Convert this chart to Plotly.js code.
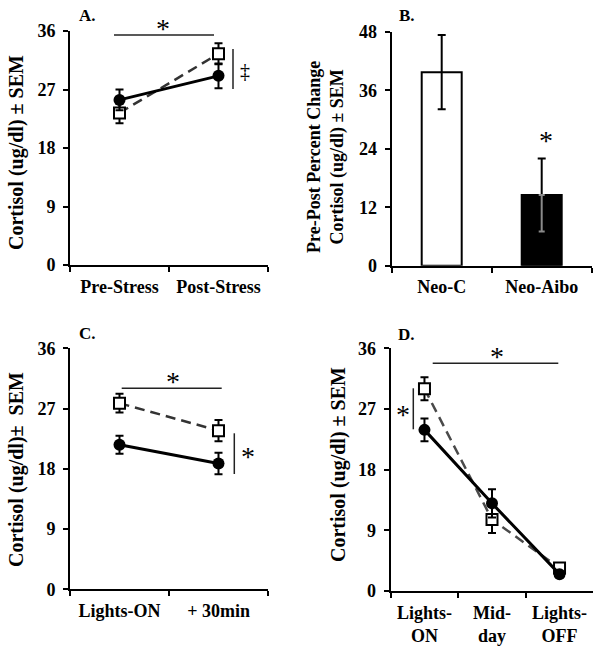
<!DOCTYPE html>
<html>
<head>
<meta charset="utf-8">
<script src="https://cdn.plot.ly/plotly-3.0.1.min.js"></script>
<style>html,body{margin:0;padding:0;background:#fff}#chart{width:602px;height:650px}</style>
</head>
<body>
<div id="chart"></div>
<script>
// ---- Panel A: stress test ----
const catsA = ['Pre-Stress', 'Post-Stress'];
const neoC_A = [23.4, 32.5];
const neoC_A_sem = [1.6, 1.6];
const aibo_A = [25.4, 29.1];
const aibo_A_sem = [1.6, 1.9];

// ---- Panel B: percent change ----
const catsB = ['Neo-C', 'Neo-Aibo'];
const pctB = [39.7, 14.5];
const pctB_sem = [7.6, 7.5];

// ---- Panel C: waking ----
const catsC = ['Lights-ON', '+ 30min'];
const neoC_C = [27.8, 23.7];
const neoC_C_sem = [1.4, 1.6];
const aibo_C = [21.6, 18.8];
const aibo_C_sem = [1.35, 1.6];

// ---- Panel D: diurnal ----
const catsD = ['Lights-<br>ON', 'Mid-<br>day', 'Lights-<br>OFF'];
const neoC_D = [30.0, 10.6, 3.4];
const neoC_D_sem = [1.7, 2.0, 0.3];
const aibo_D = [23.9, 13.0, 2.5];
const aibo_D_sem = [1.7, 2.1, 0.3];

const yTicks = [0, 9, 18, 27, 36];
const yTicksB = [0, 12, 24, 36, 48];

const W = 602, H = 650;
const px = v => v / W;
const py = v => 1 - v / H;
const FONT = 'Liberation Serif, Times New Roman, serif';

function errY(arr, color) {
  return {type: 'data', array: arr, visible: true, color: color || '#000', thickness: 2, width: 4};
}
function sqTrace(x, y, sem, xa, ya, dashColor) {
  return {x: x, y: y, xaxis: xa, yaxis: ya, type: 'scatter', mode: 'lines+markers',
    line: {color: dashColor || '#333', width: 2.5, dash: '10px,6px'},
    marker: {symbol: 'square', size: 11, color: '#fff', line: {color: '#000', width: 2}},
    error_y: errY(sem), showlegend: false, cliponaxis: false};
}
function ciTrace(x, y, sem, xa, ya) {
  return {x: x, y: y, xaxis: xa, yaxis: ya, type: 'scatter', mode: 'lines+markers',
    line: {color: '#000', width: 3},
    marker: {symbol: 'circle', size: 12, color: '#000'},
    error_y: errY(sem), showlegend: false, cliponaxis: false};
}

const traces = [
  sqTrace(catsA, neoC_A, neoC_A_sem, 'x', 'y'),
  ciTrace(catsA, aibo_A, aibo_A_sem, 'x', 'y'),
  {x: catsB, y: pctB, xaxis: 'x2', yaxis: 'y2', type: 'bar', width: 0.4,
   marker: {color: ['#fff', '#000'], line: {color: '#000', width: 2}},
   error_y: errY(pctB_sem), showlegend: false},
  {x: [catsB[1]], y: [pctB[1]], xaxis: 'x2', yaxis: 'y2', type: 'scatter', mode: 'markers',
   marker: {size: 1, color: 'rgba(0,0,0,0)'},
   error_y: {type: 'data', symmetric: false, array: [0], arrayminus: [pctB_sem[1]], color: '#8a8a8a', thickness: 2, width: 3},
   showlegend: false, hoverinfo: 'skip'},
  sqTrace(catsC, neoC_C, neoC_C_sem, 'x3', 'y3'),
  ciTrace(catsC, aibo_C, aibo_C_sem, 'x3', 'y3'),
  sqTrace(catsD, neoC_D, neoC_D_sem, 'x4', 'y4', '#4a4a4a'),
  ciTrace(catsD, aibo_D, aibo_D_sem, 'x4', 'y4')
];

const tickFont = {family: FONT, size: 18, color: '#000', weight: 'bold'};
function xAx(dom, anchor, n) {
  return {domain: dom, anchor: anchor, type: 'category', range: [-0.5, n - 0.5],
    showline: true, linewidth: 2, linecolor: '#000', ticks: 'outside', ticklen: 5, tickwidth: 2,
    tickcolor: '#000', tickson: 'boundaries', showgrid: false, zeroline: false,
    tickfont: tickFont, ticklabelstandoff: 4, fixedrange: true};
}
function yAx(dom, anchor, vals, top) {
  return {domain: dom, anchor: anchor, range: [0, top], tickvals: vals, ticktext: vals.map(String),
    showline: true, linewidth: 2, linecolor: '#000', ticks: 'outside', ticklen: 5, tickwidth: 2,
    tickcolor: '#000', showgrid: false, zeroline: false, tickfont: tickFont,
    ticklabelstandoff: 4, fixedrange: true};
}

const layout = {
  width: W, height: H, margin: {l: 0, r: 0, t: 0, b: 0},
  paper_bgcolor: '#fff', plot_bgcolor: 'rgba(0,0,0,0)', showlegend: false,
  font: {family: FONT, color: '#000'},
  xaxis: xAx([px(70), px(268)], 'y', 2),
  yaxis: yAx([py(265), py(31)], 'x', yTicks, 36),
  xaxis2: xAx([px(391.7), px(591.7)], 'y2', 2),
  yaxis2: yAx([py(265.7), py(31.7)], 'x2', yTicksB, 48),
  xaxis3: xAx([px(70), px(268)], 'y3', 2),
  yaxis3: yAx([py(589.3), py(348.3)], 'x3', yTicks, 36),
  xaxis4: xAx([px(390.7), px(593.3)], 'y4', 3),
  yaxis4: yAx([py(591), py(348.3)], 'x4', yTicks, 36),
  shapes: [],
  annotations: []
};

function hline(x0, x1, y) {
  layout.shapes.push({type: 'line', xref: 'paper', yref: 'paper', x0: px(x0), x1: px(x1), y0: py(y), y1: py(y), line: {color: '#222', width: 1.5}});
}
function vline(x, y0, y1) {
  layout.shapes.push({type: 'line', xref: 'paper', yref: 'paper', x0: px(x), x1: px(x), y0: py(y0), y1: py(y1), line: {color: '#222', width: 1.5}});
}
function txt(t, x, y, size, bold, angle) {
  layout.annotations.push({text: t, xref: 'paper', yref: 'paper', x: px(x), y: py(y), showarrow: false,
    xanchor: 'center', yanchor: 'middle', textangle: angle || 0,
    font: {family: FONT, size: size, color: '#000', weight: bold ? 'bold' : 'normal'}});
}
function star(x, y) { txt('*', x, y + 4, 28, false); }

// Panel labels
txt('A.', 87, 15, 17, true);
txt('B.', 407, 15, 17, true);
txt('C.', 87, 333, 17, true);
txt('D.', 406, 335, 17, true);

// Y axis titles
txt('Cortisol (ug/dl) ± SEM', 16, 153, 20, true, -90);
txt('Pre-Post Percent Change<br>Cortisol (ug/dl) ± SEM', 326, 157, 18, true, -90);
txt('Cortisol (ug/dl)±  SEM', 16, 470, 20, true, -90);
txt('Cortisol (ug/dl) ± SEM', 338, 465, 20, true, -90);

// Significance marks
hline(114, 214, 35); star(163, 25);
vline(233, 49, 89); txt('‡', 245, 71, 20, false);
star(545.7, 137);
hline(121.7, 221.7, 388.3); star(172.7, 377);
vline(234.3, 433.3, 474); star(248.3, 452);
hline(432.7, 558.3, 363.3); star(497.3, 352);
vline(413.3, 388.3, 429.3); star(403.3, 410);

Plotly.newPlot('chart', traces, layout, {staticPlot: true, displayModeBar: false});
</script>
</body>
</html>
